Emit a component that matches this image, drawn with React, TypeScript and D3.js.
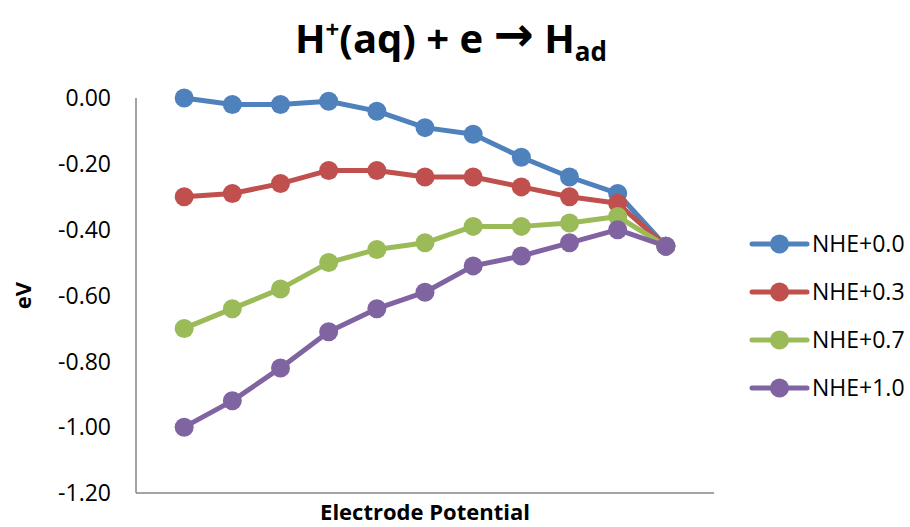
import React from "react";
import * as d3 from "d3";

const categories = [1, 2, 3, 4, 5, 6, 7, 8, 9, 10, 11];
const seriesNames = ["NHE+0.0", "NHE+0.3", "NHE+0.7", "NHE+1.0"];
const nhe00 = [0.0, -0.02, -0.02, -0.01, -0.04, -0.09, -0.11, -0.18, -0.24, -0.29, -0.45];
const nhe03 = [-0.3, -0.29, -0.26, -0.22, -0.22, -0.24, -0.24, -0.27, -0.3, -0.32, -0.45];
const nhe07 = [-0.7, -0.64, -0.58, -0.5, -0.46, -0.44, -0.39, -0.39, -0.38, -0.36, -0.45];
const nhe10 = [-1.0, -0.92, -0.82, -0.71, -0.64, -0.59, -0.51, -0.48, -0.44, -0.4, -0.45];
const yTicks = [0, -0.2, -0.4, -0.6, -0.8, -1.0, -1.2];
const colors = ["#4F81BD", "#C0504D", "#9BBB59", "#8064A2"];

const W = 910;
const H = 527;
const FONT = "'Open Sans', 'DejaVu Sans', sans-serif";

export default function App() {
  const allSeries = [nhe00, nhe03, nhe07, nhe10];
  const x = d3.scaleLinear().domain([0, categories.length + 1]).range([136, 714]);
  const y = d3.scaleLinear().domain([-1.2, 0]).range([493, 98]);
  const line = d3
    .line<number>()
    .x((_, i) => x(categories[i]))
    .y((d) => y(d));
  const fmt = (v: number) => (Math.abs(v) < 1e-9 ? "0.00" : v.toFixed(2));

  const legendX = 752;
  const legendY0 = 244;
  const legendStep = 48;

  return (
    <svg
      width={W}
      height={H}
      style={{ position: "absolute", left: 0, top: 0, background: "#fff" }}
      fontFamily={FONT}
    >
      <rect width={W} height={H} fill="#fff" />
      {/* Title */}
      <text x={451} y={53} textAnchor="middle" fontSize={40} fontWeight="bold" fill="#000">
        <tspan>H</tspan>
        <tspan fontSize={24} dy={-15}>+</tspan>
        <tspan dy={15}>(aq) + e </tspan>
        <tspan fontFamily="'DejaVu Sans', sans-serif" fontSize={48} dy={-2}>→</tspan>
        <tspan dy={2}> H</tspan>
        <tspan fontSize={26} dy={8}>ad</tspan>
      </text>

      {/* Axes */}
      <line x1={x(0)} x2={x(0)} y1={y(0)} y2={y(-1.2)} stroke="#868686" strokeWidth={1.5} />
      <line x1={x(0)} x2={x(categories.length + 1)} y1={y(-1.2)} y2={y(-1.2)} stroke="#868686" strokeWidth={1.5} />

      {yTicks.map((t) => (
        <text
          key={t}
          x={111}
          y={y(t)}
          dy="0.36em"
          textAnchor="end"
          fontSize={23}
          fill="#000"
        >
          {fmt(t)}
        </text>
      ))}

      <text
        transform={`translate(31,${(y(0) + y(-1.2)) / 2}) rotate(-90)`}
        textAnchor="middle"
        fontSize={22}
        fontWeight="bold"
        fill="#000"
      >
        eV
      </text>
      <text x={425} y={520} textAnchor="middle" fontSize={22} fontWeight="bold" fill="#000">
        Electrode Potential
      </text>

      {/* Series */}
      {allSeries.map((s, si) => (
        <g key={si}>
          <path d={line(s) || ""} fill="none" stroke={colors[si]} strokeWidth={5} strokeLinejoin="round" />
          {s.map((v, i) => (
            <circle key={i} cx={x(categories[i])} cy={y(v)} r={9.5} fill={colors[si]} />
          ))}
        </g>
      ))}

      {/* Legend */}
      {seriesNames.map((name, i) => {
        const ly = legendY0 + i * legendStep;
        return (
          <g key={name}>
            <line x1={legendX} x2={legendX + 55} y1={ly} y2={ly} stroke={colors[i]} strokeWidth={5} strokeLinecap="round" />
            <circle cx={legendX + 27.5} cy={ly} r={9.5} fill={colors[i]} />
            <text x={legendX + 60} y={ly} dy="0.36em" fontSize={23} fill="#000">
              {name}
            </text>
          </g>
        );
      })}
    </svg>
  );
}
